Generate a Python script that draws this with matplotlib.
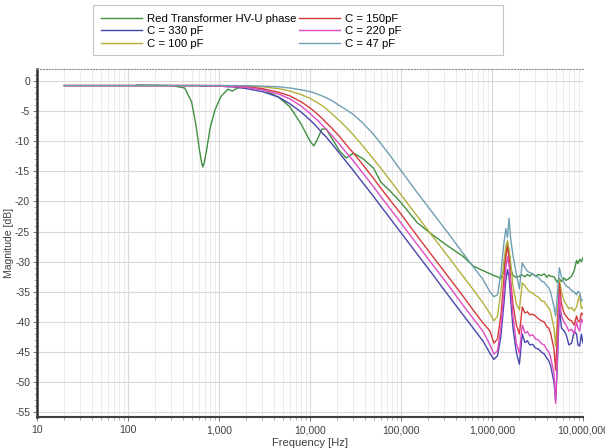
import matplotlib
matplotlib.use('Agg')
import matplotlib.pyplot as plt
from matplotlib.ticker import FixedLocator, MultipleLocator, FuncFormatter, LogLocator, NullFormatter
from matplotlib.patches import Rectangle
import numpy as np

plt.rcParams['font.family'] = ['Liberation Sans', 'DejaVu Sans']
plt.rcParams['axes.unicode_minus'] = False

# frequency points [Hz]
freq_hz = [20, 126, 300, 420, 500, 560, 610, 645, 665, 690,
           730, 800, 900, 1050, 1250, 1400, 1600, 2000, 3000, 4500,
           6000, 8000, 10000, 11000, 12000, 13500, 15000, 17500, 21000, 25000,
           30000, 38000, 50000, 60000, 75000, 100000, 150000, 220000, 320000, 480000,
           620000, 800000, 950000, 1050000, 1150000, 1250000, 1350000, 1420000, 1480000, 1540000,
           1600000, 1700000, 1850000, 2000000, 2150000,
           2300000, 2450000, 2600000, 2800000, 3000000, 3250000, 3500000, 3750000, 4000000, 4200000,
           4400000, 4800000, 5000000, 5200000, 5500000, 5800000, 6200000, 6500000, 7000000, 7500000,
           8000000, 8500000, 8800000, 9200000, 9600000, 10000000]

# magnitude [dB]
transformer_db = [np.nan, -0.7, -0.8, -1.2, -3.5, -7.5, -11.5, -13.6, -14.3, -13.5,
                  -11.5, -7.8, -4.9, -2.6, -1.4, -1.7, -1.2, -1.0, -1.4, -2.7,
                  -4.3, -7.2, -10.0, -10.8, -9.8, -8.0, -8.0, -9.6, -11.6, -12.8,
                  -12.0, -12.9, -14.5, -16.8, -18.2, -20.2, -23.5, -25.5, -27.3, -29.1,
                  -30.7, -31.5, -32.0, -32.3, -32.5, -32.8, -31.5, -29.0, -27.0, -28.5,
                  -31.0, -32.3, -32.6, -32.4, -32.2,
                  -32.5, -32.1, -32.4, -32.0, -32.4, -32.1, -32.3, -32.0, -32.6, -32.2,
                  -32.4, -32.5, -33.0, -33.4, -32.8, -33.3, -32.7, -33.1, -32.8, -32.4,
                  -31.5, -29.8, -30.3, -29.6, -30.0, -29.3]

c330_db = [-0.8, -0.8, -0.8, -0.8, -0.8, -0.8, -0.8, -0.9, -0.9, -0.9,
           -0.9, -0.9, -0.9, -0.9, -1.0, -1.0, -1.1, -1.3, -1.8, -2.7,
           -3.8, -5.2, -6.5, -7.1, -7.7, -8.6, -9.3, -10.5, -12.0, -13.4,
           -14.9, -16.9, -19.2, -20.8, -22.7, -25.2, -28.7, -32.0, -35.3, -38.8,
           -41.0, -43.2, -45.2, -46.2, -45.6, -42.5, -37.0, -33.0, -31.3, -32.5,
           -36.0, -41.0, -45.0, -47.0, -42.0,
           -43.4, -43.1, -43.8, -43.7, -44.3, -44.5, -45.0, -45.3, -46.0, -46.4,
           -47.2, -50.0, -53.0, -48.0, -37.5, -41.0, -41.5, -42.0, -43.8, -43.5,
           -41.5, -42.0, -43.8, -44.0, -42.0, -43.5]

c220_db = [-0.8, -0.8, -0.8, -0.8, -0.8, -0.8, -0.8, -0.8, -0.8, -0.8,
           -0.8, -0.9, -0.9, -0.9, -0.9, -1.0, -1.0, -1.1, -1.5, -2.2,
           -3.0, -4.2, -5.4, -6.0, -6.5, -7.3, -8.0, -9.1, -10.5, -11.9,
           -13.3, -15.3, -17.6, -19.2, -21.1, -23.6, -27.1, -30.4, -33.6, -37.2,
           -39.4, -41.6, -43.8, -45.3, -44.8, -41.0, -35.0, -31.0, -29.2, -30.5,
           -34.0, -39.0, -43.5, -45.2, -40.5,
           -41.8, -41.6, -42.3, -42.1, -42.8, -43.0, -43.6, -43.8, -44.6, -44.9,
           -45.8, -48.5, -53.5, -47.0, -35.5, -39.0, -40.0, -40.5, -41.5, -41.2,
           -42.0, -40.0, -41.0, -41.5, -39.5, -40.0]

c150_db = [-0.8, -0.8, -0.8, -0.8, -0.8, -0.8, -0.8, -0.8, -0.8, -0.8,
           -0.8, -0.8, -0.8, -0.8, -0.9, -0.9, -1.0, -1.0, -1.3, -1.9,
           -2.5, -3.5, -4.5, -5.0, -5.5, -6.2, -6.9, -7.9, -9.2, -10.6,
           -12.0, -13.9, -16.2, -17.8, -19.7, -22.1, -25.7, -29.0, -32.2, -35.7,
           -38.0, -40.2, -41.5, -43.5, -42.8, -39.0, -33.0, -29.0, -27.5, -29.5,
           -33.0, -37.0, -40.5, -42.0, -37.5,
           -38.5, -38.3, -38.8, -38.7, -39.0, -39.5, -39.8, -40.0, -40.8, -41.0,
           -41.8, -44.5, -48.0, -43.0, -33.5, -37.0, -38.5, -39.0, -39.6, -39.8,
           -40.5, -39.0, -39.8, -40.0, -38.5, -38.8]

c100_db = [-0.8, -0.8, -0.8, -0.8, -0.8, -0.8, -0.8, -0.8, -0.8, -0.8,
           -0.8, -0.8, -0.8, -0.8, -0.8, -0.9, -0.9, -0.9, -1.0, -1.3,
           -1.7, -2.3, -2.9, -3.3, -3.6, -4.1, -4.6, -5.5, -6.6, -7.7,
           -9.0, -10.8, -13.0, -14.5, -16.4, -18.9, -22.4, -25.7, -28.9, -32.4,
           -34.6, -36.9, -38.6, -39.8, -39.0, -35.0, -30.0, -27.5, -26.5, -28.0,
           -30.0, -34.0, -37.0, -38.0, -33.5,
           -34.0, -34.6, -35.0, -35.2, -35.6, -35.9, -36.5, -36.6, -37.3, -37.6,
           -38.3, -41.0, -44.0, -40.0, -33.0, -35.0, -36.5, -37.0, -37.8, -37.6,
           -38.2, -37.5, -36.5, -35.5, -37.8, -37.5]

c47_db = [-0.8, -0.8, -0.8, -0.8, -0.8, -0.8, -0.8, -0.8, -0.8, -0.8,
          -0.8, -0.8, -0.8, -0.8, -0.8, -0.8, -0.8, -0.8, -0.9, -1.0,
          -1.2, -1.5, -1.8, -2.0, -2.2, -2.5, -2.8, -3.3, -4.1, -4.8,
          -5.6, -7.0, -8.9, -10.4, -12.3, -14.9, -18.5, -21.8, -25.0, -28.6,
          -30.8, -33.0, -35.0, -35.8, -35.5, -32.0, -27.0, -24.5, -26.0, -22.8,
          -26.0, -29.0, -32.0, -34.5, -30.2,
          -31.0, -31.6, -31.8, -32.0, -32.4, -32.6, -33.2, -33.4, -34.0, -34.3,
          -35.0, -37.5, -39.0, -36.0, -31.0, -32.5, -33.5, -34.0, -34.3, -34.8,
          -35.0, -35.5, -34.9, -35.2, -36.5, -36.3]

x_ticks = [10, 100, 1000, 10000, 100000, 1000000, 10000000]
y_ticks = list(range(-55, 1, 5))

W, H = 605, 448
fig = plt.figure(figsize=(W / 100, H / 100), dpi=100)
ax = fig.add_axes([37 / W, 1 - 416.7 / H, (583 - 37) / W, (416.7 - 69.3) / H])

# draw order so the pink shows on top in the spikes
series = [
    ('Red Transformer HV-U phase', transformer_db, '#3f8f3f'),
    ('C = 330 pF', c330_db, '#4646ac'),
    ('C = 100 pF', c100_db, '#b4b03c'),
    ('C = 150pF', c150_db, '#d63a3a'),
    ('C = 220 pF', c220_db, '#e04cc4'),
    ('C = 47 pF', c47_db, '#6f9fb3'),
]
handles = {}
for label, vals, col in series:
    ln, = ax.plot(freq_hz, vals, color=col, lw=1.0, label=label)
    handles[label] = ln

ax.set_xscale('log')
ax.set_xlim(10, 1e7)
ax.set_ylim(-55.7, 1.9)

ax.xaxis.set_major_locator(FixedLocator(x_ticks))
ax.xaxis.set_major_formatter(FuncFormatter(lambda v, p: f'{int(round(v)):,}'))
ax.xaxis.set_minor_locator(LogLocator(base=10, subs=np.arange(2, 10), numticks=20))
ax.xaxis.set_minor_formatter(NullFormatter())
ax.yaxis.set_major_locator(FixedLocator(y_ticks))
ax.yaxis.set_major_formatter(FuncFormatter(lambda v, p: f'{int(v)}'))
ax.yaxis.set_minor_locator(MultipleLocator(1))

ax.grid(which='major', color='#d9d9d9', lw=0.8)
ax.grid(which='minor', axis='x', color='#e8e8e8', lw=0.6)
ax.set_axisbelow(True)

ax.tick_params(which='major', labelsize=7.5, labelcolor='#404040', color='#606060', length=3, width=0.6)
ax.tick_params(which='minor', color='#909090', length=2, width=0.5)
ax.tick_params(axis='x', pad=3)
ax.tick_params(axis='y', pad=2)

ax.spines['left'].set_linewidth(1.8)
ax.spines['left'].set_color('#303030')
ax.spines['bottom'].set_linewidth(1.5)
ax.spines['bottom'].set_color('#404040')
ax.spines['top'].set_linestyle(':')
ax.spines['top'].set_color('#909090')
ax.spines['top'].set_linewidth(0.8)
ax.spines['right'].set_visible(False)

ax.set_xlabel('Frequency [Hz]', fontsize=8, color='#404040', labelpad=2)
ax.set_ylabel('Magnitude [dB]', fontsize=7.5, color='#404040')
ax.yaxis.set_label_coords(-0.043, 0.5)

# legend box above the plot
fig.patches.append(Rectangle((93 / W, 1 - 55 / H), (503 - 93) / W, 50 / H,
                             transform=fig.transFigure, facecolor='white',
                             edgecolor='#c4c4c4', lw=0.8))
order = ['Red Transformer HV-U phase', 'C = 330 pF', 'C = 100 pF',
         'C = 150pF', 'C = 220 pF', 'C = 47 pF']
fig.legend([handles[k] for k in order], order, loc='upper left',
           bbox_to_anchor=(93 / W, 1 - 6 / H), ncol=2, frameon=False,
           fontsize=8.2, handlelength=3.6, handletextpad=0.4,
           columnspacing=0.3, labelspacing=0.2, borderpad=0.2)

fig.savefig('out.png', dpi=100)
